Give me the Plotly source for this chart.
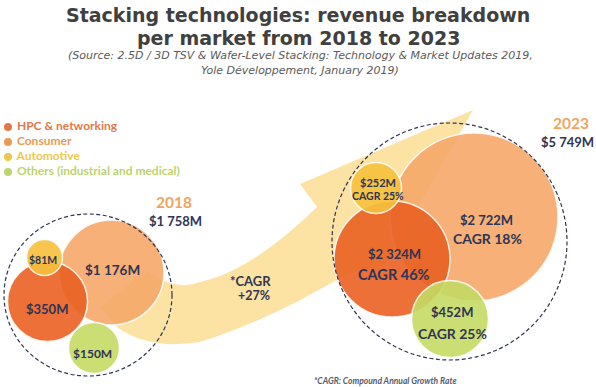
import plotly.graph_objects as go

# ---------------- data ----------------
categories = ["HPC & networking", "Consumer", "Automotive", "Others (industrial and medical)"]
rev_2018 = [350, 1176, 81, 150]          # $M
rev_2023 = [2324, 2722, 252, 452]        # $M
cagr_2023 = [46, 18, 25, 25]             # %
total_2018 = 1758
total_2023 = 5749
total_cagr = 27

# ---------------- layout / style ----------------
W, H = 596, 387
fill_cols = ["rgba(234,97,34,0.9)", "rgba(245,167,105,0.9)",
             "rgba(247,192,60,0.9)", "rgba(196,218,100,0.9)"]
legend_cols = ["#e4774a", "#e99a55", "#efc74a", "#bcd46e"]
navy = "#2f3553"
arrow_col = "#fce3a4"

# draw order (back to front): Consumer, HPC, Automotive, Others
order = [1, 0, 2, 3]
pos_2018 = [(47.5, 301.5), (111.5, 272.5), (44.5, 257.5), (94, 348)]
diam_2018 = [80, 105, 36, 51]
lab_2018 = [(47, 309), (112, 270), (43, 260), (92, 353)]
fs_2018 = [13, 13.5, 10.5, 12]

pos_2023 = [(392, 259), (474, 217), (376, 188), (450, 319)]
diam_2023 = [116, 168, 51, 77]
val_lab_2023 = [(394.5, 254), (486.5, 220), (377.5, 182), (451.5, 312)]
cagr_lab_2023 = [(394, 274), (487, 238), (378, 196), (452, 333)]
fs_val_2023 = [13, 13, 11, 13]
fs_cagr_2023 = [14.5, 14, 10.5, 14]

def money(v):
    s = f"{v:,}".replace(",", " ")
    return f"${s}M"

fig = go.Figure()

# arrow (decorative swoosh)
arrow_path = ("M 100 307 L 147 271 Q 175 292 200 282 Q 250 272 317 207 "
              "L 300 184 L 473 110 L 385 265 L 345 275 "
              "Q 270 320 200 342 Q 150 350 118 328 Z")
shapes = [dict(type="path", path=arrow_path, xref="x", yref="y",
               fillcolor=arrow_col, line=dict(width=0), layer="below")]

# bubbles
for pos, diam, vals in [(pos_2018, diam_2018, rev_2018), (pos_2023, diam_2023, rev_2023)]:
    fig.add_trace(go.Scatter(
        x=[pos[i][0] for i in order], y=[pos[i][1] for i in order],
        mode="markers",
        marker=dict(size=[diam[i] for i in order], opacity=1,
                    color=[fill_cols[i] for i in order],
                    line=dict(color="rgba(255,255,255,0.85)", width=1.5)),
        hoverinfo="text", text=[f"{categories[i]}: {money(vals[i])}" for i in order],
        showlegend=False))

# legend dots + labels
leg_y = [127, 142, 157, 172]
fig.add_trace(go.Scatter(
    x=[8] * 4, y=leg_y, mode="markers+text",
    marker=dict(size=8, color=legend_cols, opacity=1),
    text=[" " + c for c in categories], textposition="middle right",
    textfont=dict(family="Lato", size=12, color=legend_cols, weight="bold"),
    hoverinfo="skip", showlegend=False))

ann = []
def txt(x, y, s, size, color=navy, family="Lato", weight="bold", style="normal"):
    ann.append(dict(x=x, y=y, xref="x", yref="y", text=s, showarrow=False,
                    font=dict(family=family, size=size, color=color, weight=weight, style=style),
                    xanchor="center", yanchor="middle"))

# title
txt(298, 15, "Stacking technologies: revenue breakdown", 19, "#404040", "DejaVu Sans")
txt(298, 38, "per market from 2018 to 2023", 19, "#404040", "DejaVu Sans")
txt(300, 55, "(Source: 2.5D / 3D TSV &amp; Wafer-Level Stacking: Technology &amp; Market Updates 2019,",
    11, "#5a5a5a", "DejaVu Sans", "normal", "italic")
txt(300, 70, "Yole Développement, January 2019)", 11, "#5a5a5a", "DejaVu Sans", "normal", "italic")

# bubble labels
for i in range(4):
    txt(lab_2018[i][0], lab_2018[i][1], money(rev_2018[i]), fs_2018[i])
    txt(val_lab_2023[i][0], val_lab_2023[i][1], money(rev_2023[i]), fs_val_2023[i])
    txt(cagr_lab_2023[i][0], cagr_lab_2023[i][1], f"CAGR {cagr_2023[i]}%", fs_cagr_2023[i])

# year totals
txt(174, 202, "2018", 15.5, "#f0a55e")
txt(175, 221, money(total_2018), 13)
txt(571, 123, "2023", 15.5, "#f0a55e")
txt(567, 142, money(total_2023), 13)

# total cagr on arrow
txt(250, 281, "*CAGR", 13)
txt(254, 295, f"+{total_cagr}%", 12.5)

# footnote
txt(385, 381, "*CAGR: Compound Annual Growth Rate", 8.5, "#555a70", "Lato", "bold", "italic")

# dashed envelopes
shapes.append(dict(type="circle", xref="x", yref="y", x0=4, x1=172, y0=214, y1=376,
                   line=dict(color=navy, width=1.2, dash="4px,2.5px"), layer="above"))
shapes.append(dict(type="circle", xref="x", yref="y", x0=332, x1=567, y0=123, y1=360,
                   line=dict(color=navy, width=1.2, dash="4px,2.5px"), layer="above"))

fig.update_layout(
    width=W, height=H, autosize=False,
    margin=dict(l=0, r=0, t=0, b=0),
    paper_bgcolor="white", plot_bgcolor="white",
    xaxis=dict(range=[0, W], visible=False, fixedrange=True),
    yaxis=dict(range=[H, 0], visible=False, fixedrange=True),
    shapes=shapes, annotations=ann, showlegend=False)

fig.write_html("out.html", config={"displayModeBar": False},
               post_script="document.body.style.margin='0';document.body.style.overflow='hidden';")
